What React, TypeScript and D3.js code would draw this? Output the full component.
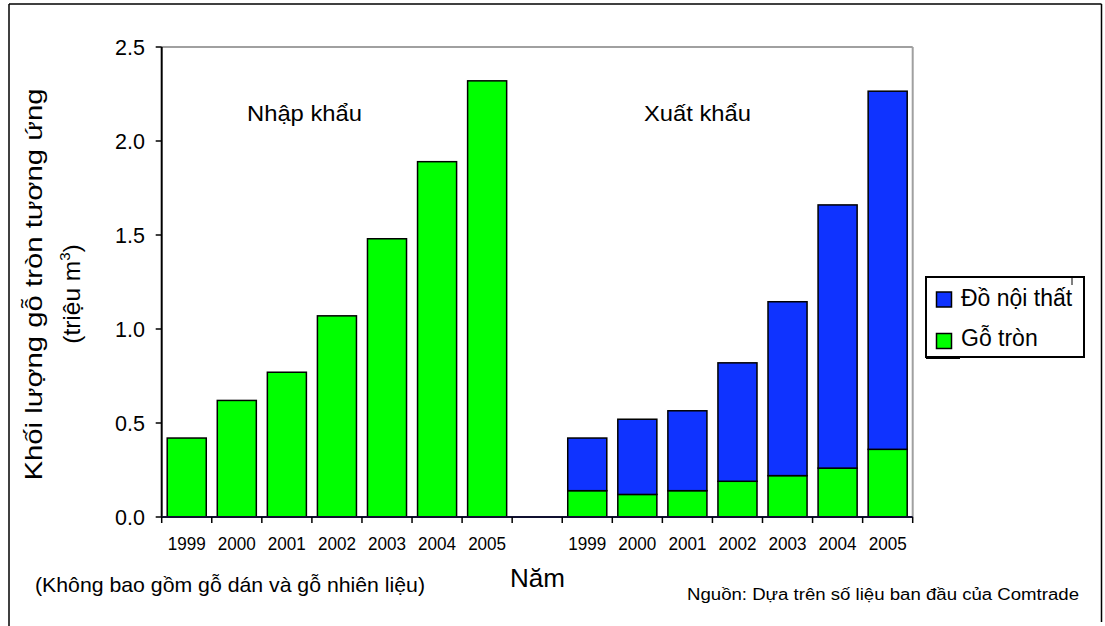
import React from "react";
import * as d3 from "d3";

const years = ["1999", "2000", "2001", "2002", "2003", "2004", "2005"];
const importRound = [0.42, 0.62, 0.77, 1.07, 1.48, 1.89, 2.32];
const exportRound = [0.14, 0.12, 0.14, 0.19, 0.22, 0.26, 0.36];
const exportFurniture = [0.28, 0.4, 0.425, 0.63, 0.925, 1.4, 1.905];
const yTicks = [0, 0.5, 1.0, 1.5, 2.0, 2.5];
const seriesNames = ["Đồ nội thất", "Gỗ tròn"];
const groupLabels = ["Nhập khẩu", "Xuất khẩu"];

const GREEN = "#00ff00";
const BLUE = "#0f33ff";
const FONT = "'Liberation Sans', Arial, Helvetica, sans-serif";

export default function App() {
  const W = 1105;
  const H = 626;
  const left = 161.7;
  const right = 912.7;
  const top = 47;
  const bottom = 517;

  const slots = [
    ...years.map((y) => "N" + y),
    "gap",
    ...years.map((y) => "X" + y),
  ];
  const x = d3
    .scaleBand<string>()
    .domain(slots)
    .range([left, right])
    .paddingInner(0.22)
    .paddingOuter(0.11);
  const step = x.step();
  const bw = x.bandwidth();
  const y = d3.scaleLinear().domain([0, 2.5]).range([bottom, top]);

  const importBars = years.map((yr, i) => ({ key: "N" + yr, v: importRound[i] }));
  const exportStack = d3
    .stack<any>()
    .keys(["round", "furn"])(
      years.map((yr, i) => ({ key: "X" + yr, round: exportRound[i], furn: exportFurniture[i] }))
    );

  const boundaries = d3.range(slots.length + 1).map((i) => left + i * step);

  return (
    <div style={{ position: "absolute", left: 0, top: 0 }}>
      <svg width={W} height={H} style={{ display: "block", fontFamily: FONT }}>
        <rect x={0} y={0} width={W} height={H} fill="#fff" />
        {/* outer border */}
        <line x1={9} y1={4} x2={1101.5} y2={4} stroke="#000" strokeWidth={1.5} />
        <line x1={9} y1={4} x2={9} y2={626} stroke="#000" strokeWidth={1.5} />
        <line x1={1101.5} y1={4} x2={1101.5} y2={622} stroke="#000" strokeWidth={1.5} />

        {/* plot frame */}
        <line x1={left} y1={y(2.5)} x2={right} y2={y(2.5)} stroke="#a0a0a0" strokeWidth={2} />
        <line x1={right} y1={y(2.5)} x2={right} y2={bottom} stroke="#a0a0a0" strokeWidth={2} />

        {/* import bars */}
        {importBars.map((d) => (
          <rect
            key={d.key}
            x={x(d.key)}
            y={y(d.v)}
            width={bw}
            height={y(0) - y(d.v)}
            fill={GREEN}
            stroke="#000"
            strokeWidth={1.5}
          />
        ))}
        {/* export stacked bars */}
        {exportStack.map((layer) =>
          layer.map((seg: any) => (
            <rect
              key={layer.key + seg.data.key}
              x={x(seg.data.key)}
              y={y(seg[1])}
              width={bw}
              height={y(seg[0]) - y(seg[1])}
              fill={layer.key === "round" ? GREEN : BLUE}
              stroke="#000"
              strokeWidth={1.5}
            />
          ))
        )}

        {/* y axis */}
        <line x1={left} y1={top} x2={left} y2={bottom} stroke="#000" strokeWidth={2} />
        {yTicks.map((t) => (
          <g key={t}>
            <line x1={left - 6} x2={left} y1={y(t)} y2={y(t)} stroke="#000" strokeWidth={1.5} />
            <text x={145} y={y(t)} dy="0.36em" textAnchor="end" fontSize={21.5} fill="#000">
              {t.toFixed(1)}
            </text>
          </g>
        ))}

        {/* x axis */}
        <line x1={left} y1={bottom} x2={right} y2={bottom} stroke="#101030" strokeWidth={2} />
        {boundaries.map((b, i) => (
          <line key={i} x1={b} x2={b} y1={bottom} y2={bottom + 6} stroke="#000" strokeWidth={1.5} />
        ))}
        {slots
          .filter((s) => s !== "gap")
          .map((s) => (
            <text
              key={s}
              x={(x(s) as number) + bw / 2}
              y={550}
              textAnchor="middle"
              fontSize={18}
              textLength={38}
              lengthAdjust="spacingAndGlyphs"
              fill="#000"
            >
              {s.slice(1)}
            </text>
          ))}

        {/* group labels */}
        <text x={247} y={121} fontSize={22.5} textLength={115} lengthAdjust="spacingAndGlyphs" fill="#000">
          {groupLabels[0]}
        </text>
        <text x={644} y={121} fontSize={22.5} textLength={107} lengthAdjust="spacingAndGlyphs" fill="#000">
          {groupLabels[1]}
        </text>

        {/* y title */}
        <text
          transform={`translate(42,284.5) rotate(-90)`}
          textAnchor="middle"
          fontSize={24.5}
          textLength={392}
          lengthAdjust="spacingAndGlyphs"
          fill="#000"
        >
          Khối lượng gỗ tròn tương ứng
        </text>
        <text
          transform={`translate(80,294) rotate(-90)`}
          textAnchor="middle"
          fontSize={24.5}
          fill="#000"
        >
          (triệu m<tspan fontSize={15} dy={-10}>3</tspan>
          <tspan dy={10}>)</tspan>
        </text>

        {/* x title */}
        <text x={510} y={587} fontSize={25} textLength={55} lengthAdjust="spacingAndGlyphs" fill="#000">
          Năm
        </text>

        {/* footnotes */}
        <text x={35} y={592} fontSize={21} textLength={390} lengthAdjust="spacingAndGlyphs" fill="#000">
          (Không bao gồm gỗ dán và gỗ nhiên liệu)
        </text>
        <text x={687} y={600} fontSize={16} textLength={392} lengthAdjust="spacingAndGlyphs" fill="#000">
          Nguồn: Dựa trên số liệu ban đầu của Comtrade
        </text>

        {/* legend */}
        <rect x={926} y={277} width={158} height={80} fill="#fff" stroke="#000" strokeWidth={2} />
        <line x1={926} y1={358} x2={960} y2={358} stroke="#000" strokeWidth={2} />
        <line x1={1072} y1={277} x2={1072} y2={285} stroke="#000" strokeWidth={1} />
        {seriesNames.map((name, i) => (
          <g key={name}>
            <rect
              x={936.5}
              y={292 + i * 41.5}
              width={15}
              height={15}
              fill={i === 0 ? BLUE : GREEN}
              stroke="#000"
              strokeWidth={1.5}
            />
            <text x={961} y={305.5 + i * 40} fontSize={23} fill="#000">
              {name}
            </text>
          </g>
        ))}
      </svg>
    </div>
  );
}
